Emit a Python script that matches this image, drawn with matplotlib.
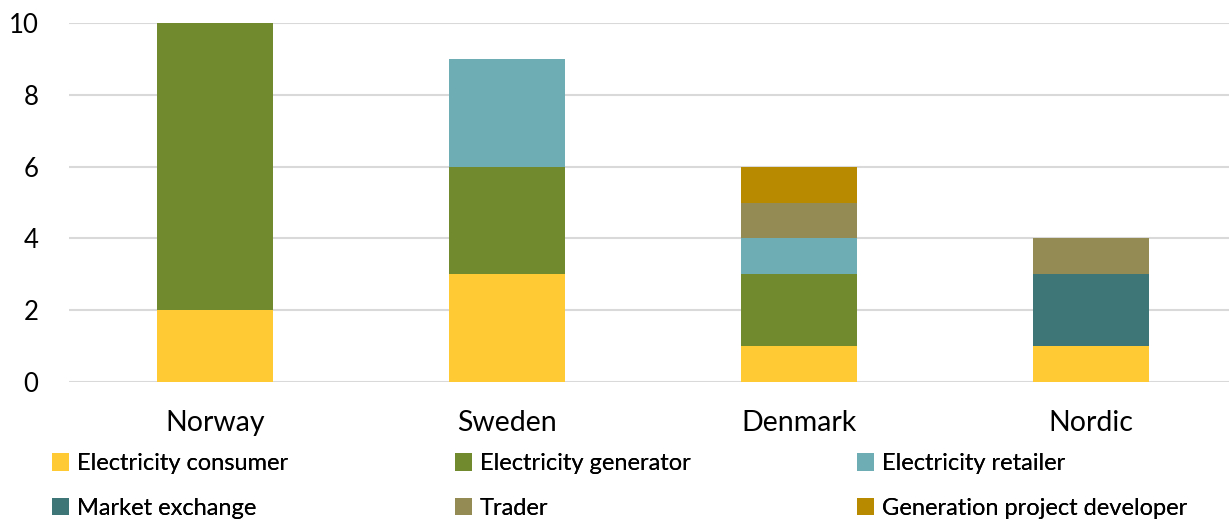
import matplotlib.pyplot as plt
import numpy as np

countries = ['Norway', 'Sweden', 'Denmark', 'Nordic']
consumer = [2, 3, 1, 1]
generator = [8, 3, 2, 0]
retailer = [0, 3, 1, 0]
market = [0, 0, 0, 2]
trader = [0, 0, 1, 1]
developer = [0, 0, 1, 0]

series = [
    ('Electricity consumer', consumer, '#FFCA33'),
    ('Electricity generator', generator, '#728A2E'),
    ('Electricity retailer', retailer, '#6FADB5'),
    ('Market exchange', market, '#3E7678'),
    ('Trader', trader, '#948A54'),
    ('Generation project developer', developer, '#B88A00'),
]

plt.rcParams['font.family'] = ['Lato', 'DejaVu Sans']

W, H = 1229, 525
fig = plt.figure(figsize=(W / 100, H / 100), dpi=100)
ax = fig.add_axes([69 / W, 1 - 382 / H, 1168 / W, 359 / H])

x = np.arange(len(countries))
bottom = np.zeros(len(countries))
handles = {}
for name, vals, col in series:
    vals = np.array(vals, dtype=float)
    b = ax.bar(x, vals, 0.4, bottom=bottom, color=col, label=name, zorder=3)
    handles[name] = b
    bottom += vals

ax.set_xlim(-0.5, 3.5)
ax.set_ylim(0, 10)
ax.set_yticks([0, 2, 4, 6, 8, 10])
ax.grid(axis='y', color='#D9D9D9', linewidth=1.5, zorder=0)
for s in ax.spines.values():
    s.set_visible(False)
ax.tick_params(axis='both', length=0)
ax.tick_params(axis='y', pad=22, labelsize=18.5)
ax.tick_params(axis='x', pad=20, labelsize=20.5)
ax.set_xticks(x)
ax.set_xticklabels(countries)

# legend: three columns of two rows each
cols = [
    (52, ['Electricity consumer', 'Market exchange']),
    (455, ['Electricity generator', 'Trader']),
    (857, ['Electricity retailer', 'Generation project developer']),
]
for xpos, names in cols:
    leg = fig.legend([handles[n] for n in names], names,
                     loc='center left', bbox_to_anchor=(xpos / W, 1 - 486 / H),
                     frameon=False, fontsize=17, borderpad=0, borderaxespad=0,
                     handlelength=0.7, handleheight=0.75, handletextpad=0.35,
                     labelspacing=1.0)
    fig.add_artist(leg)

fig.savefig('out.png', dpi=100)
